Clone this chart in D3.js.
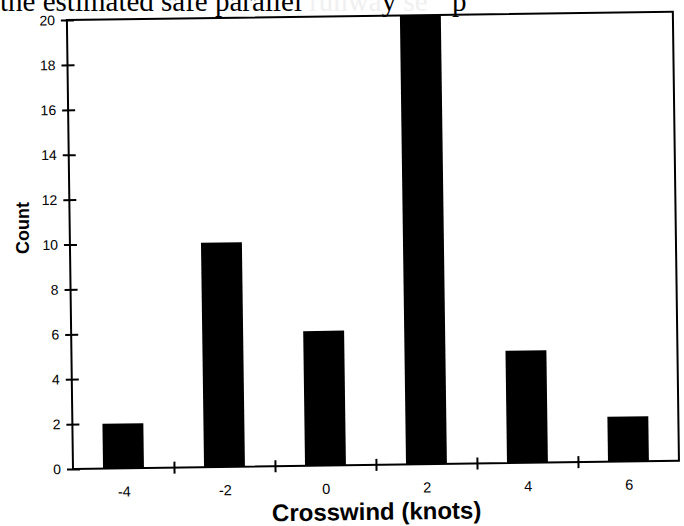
<!DOCTYPE html>
<html>
<head>
<meta charset="utf-8">
<script src="https://cdn.jsdelivr.net/npm/d3@7"></script>
<style>
  html, body { margin: 0; padding: 0; background: #fff; }
  svg { display: block; }
  .tick text { font-family: Arial, "Liberation Sans", sans-serif; fill: #000; }
</style>
</head>
<body>
<svg id="chart" width="684" height="526"></svg>
<script>
// Crosswind histogram: count of observations per crosswind bin (knots)
const crosswind = [-4, -2, 0, 2, 4, 6];
const counts = [2, 10, 6, 20, 5, 2];
const yTickValues = [0, 2, 4, 6, 8, 10, 12, 14, 16, 18, 20];
const xGridTicks = [-3, -1, 1, 3, 5];
const xLabelTicks = [-4, -2, 0, 2, 4, 6];

const svg = d3.select("#chart");
const plotLeft = 73, plotTop = 20, plotW = 606, plotH = 449;

// Caption line running along the top edge of the page (faded middle of the line)
const cap = svg.append("text")
  .attr("x", 0).attr("y", 11)
  .attr("font-family", "'Liberation Serif', 'Times New Roman', serif")
  .attr("font-size", 29).attr("fill", "#000");
cap.append("tspan").text("the estimated safe parallel ");
cap.append("tspan").attr("fill", "#f0f0f0").text("runwa");
cap.append("tspan").attr("fill", "#000").text("y");
cap.append("tspan").attr("fill", "#f0f0f0").text(" se");
cap.append("tspan").attr("x", 452).attr("fill", "#000").text("p");

// Plot group, slightly rotated like the printed page
const g = svg.append("g")
  .attr("transform", `translate(${plotLeft},${plotTop}) rotate(-0.78, 0, ${plotH})`);

const x = d3.scaleLinear().domain([-5, 7]).range([0, plotW]);
const y = d3.scaleLinear().domain([0, 20]).range([plotH, 0]);
const halfBar = 0.405;

// Bars
g.selectAll("rect.bar")
  .data(crosswind.map((c, i) => ({ c, n: counts[i] })))
  .join("rect")
  .attr("class", "bar")
  .attr("x", d => x(d.c - halfBar))
  .attr("width", d => x(d.c + halfBar) - x(d.c - halfBar))
  .attr("y", d => y(d.n))
  .attr("height", d => y(0) - y(d.n))
  .attr("fill", "#000");

// Frame
g.append("rect")
  .attr("x", 0).attr("y", 0)
  .attr("width", plotW).attr("height", plotH)
  .attr("fill", "none").attr("stroke", "#000").attr("stroke-width", 2);

// Y axis with ticks crossing the axis line
const yAxis = g.append("g")
  .call(d3.axisLeft(y).tickValues(yTickValues).tickSize(6).tickPadding(6)
    .tickFormat(d => String(d)));
yAxis.select(".domain").remove();
yAxis.selectAll(".tick line").attr("x1", 7).attr("x2", -6)
  .attr("stroke", "#000").attr("stroke-width", 2);
yAxis.selectAll(".tick text").attr("font-size", 14);

// X axis tick marks between bars
const xTickAxis = g.append("g")
  .attr("transform", `translate(0,${plotH})`)
  .call(d3.axisBottom(x).tickValues(xGridTicks).tickSize(6).tickFormat(""));
xTickAxis.select(".domain").remove();
xTickAxis.selectAll(".tick line").attr("y1", -6).attr("y2", 6)
  .attr("stroke", "#000").attr("stroke-width", 2);

// X axis labels under the bars
const xLabelAxis = g.append("g")
  .attr("transform", `translate(0,${plotH})`)
  .call(d3.axisBottom(x).tickValues(xLabelTicks).tickSize(0).tickPadding(18)
    .tickFormat(d => String(d)));
xLabelAxis.select(".domain").remove();
xLabelAxis.selectAll(".tick text").attr("font-size", 14.5);

// Axis titles
g.append("text")
  .attr("x", plotW / 2).attr("y", plotH + 55)
  .attr("text-anchor", "middle")
  .attr("font-family", "Arial, 'Liberation Sans', sans-serif")
  .attr("font-weight", "bold").attr("font-size", 24)
  .text("Crosswind (knots)");

svg.append("text")
  .attr("transform", "translate(29,228) rotate(-90)")
  .attr("text-anchor", "middle")
  .attr("font-family", "Arial, 'Liberation Sans', sans-serif")
  .attr("font-weight", "bold").attr("font-size", 18)
  .text("Count");
</script>
</body>
</html>
